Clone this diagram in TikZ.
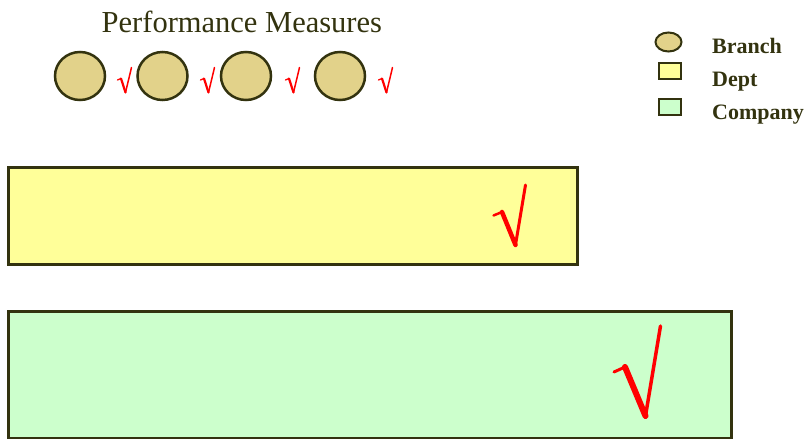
\documentclass[tikz,border=0pt]{standalone}
\usepackage{fontspec}
\setmainfont{Liberation Serif}
\usetikzlibrary{shapes.geometric}
\definecolor{olivetext}{HTML}{33330F}
\definecolor{edgec}{HTML}{33330F}
\definecolor{branchc}{HTML}{E2D28A}
\definecolor{deptc}{HTML}{FFFF99}
\definecolor{compc}{HTML}{CCFFCC}
\definecolor{checkc}{HTML}{FF0000}
\begin{document}
\begin{tikzpicture}[x=1pt,y=-1pt,
  branchnode/.style={ellipse, draw=edgec, fill=branchc, line width=2.5pt, minimum width=50pt, minimum height=48pt, inner sep=0pt},
  boxnode/.style={rectangle, draw=edgec, line width=2.8pt, inner sep=0pt, anchor=north west},
  legtext/.style={anchor=base west, inner sep=0pt, text=olivetext, font=\fontsize{22}{26}\selectfont\bfseries},
  chk/.style={draw=checkc, line cap=round, line join=round}
]
\useasboundingbox (0,0) rectangle (807,439);
% title
\node[anchor=base west, inner sep=0pt, text=olivetext, font=\fontsize{30.5}{36}\selectfont] (title) at (101.5,32) {Performance Measures};
% branch circles
\node[branchnode] (b1) at (80,76) {};
\node[branchnode] (b2) at (162.5,76) {};
\node[branchnode] (b3) at (246,76) {};
\node[branchnode] (b4) at (340,76) {};
% small checks
\foreach \dx in {0,83,168,261}{
  \draw[chk, line width=1.3pt] ([xshift=\dx pt]117.5,80) -- ([xshift=\dx pt]121,78.5);
  \draw[chk, line width=2.2pt] ([xshift=\dx pt]121,78.5) -- ([xshift=\dx pt]125.5,92.5);
  \draw[chk, line width=1.5pt] ([xshift=\dx pt]125.5,92.5) -- ([xshift=\dx pt]131.5,67.5);
}
% legend
\node[ellipse, draw=edgec, fill=branchc, line width=2pt, minimum width=26pt, minimum height=19pt, inner sep=0pt] (lb) at (668.5,42) {};
\node[rectangle, draw=edgec, fill=deptc, line width=2pt, minimum width=22pt, minimum height=16pt, inner sep=0pt] (ld) at (670,71) {};
\node[rectangle, draw=edgec, fill=compc, line width=2pt, minimum width=22pt, minimum height=16pt, inner sep=0pt] (lc) at (670,107) {};
\node[legtext] (tb) at (712,53) {Branch};
\node[legtext] (td) at (712,86) {Dept};
\node[legtext] (tc) at (712,119) {Company};
% big boxes
\node[boxnode, fill=deptc, minimum width=569pt, minimum height=97pt] (dept) at (7,166) {};
\node[boxnode, fill=compc, minimum width=723pt, minimum height=127pt] (comp) at (7,310) {};
% big checks
\draw[chk, line width=2.5pt] (493.5,215.5) -- (502,212);
\draw[chk, line width=4.5pt] (502,212) -- (515.5,245);
\draw[chk, line width=3pt] (515.5,245) -- (525.5,185);
\draw[chk, line width=3pt] (614,372) -- (625,367);
\draw[chk, line width=6pt] (625,367) -- (645.5,416);
\draw[chk, line width=3.5pt] (645.5,416) -- (660.5,326);
\end{tikzpicture}
\end{document}
